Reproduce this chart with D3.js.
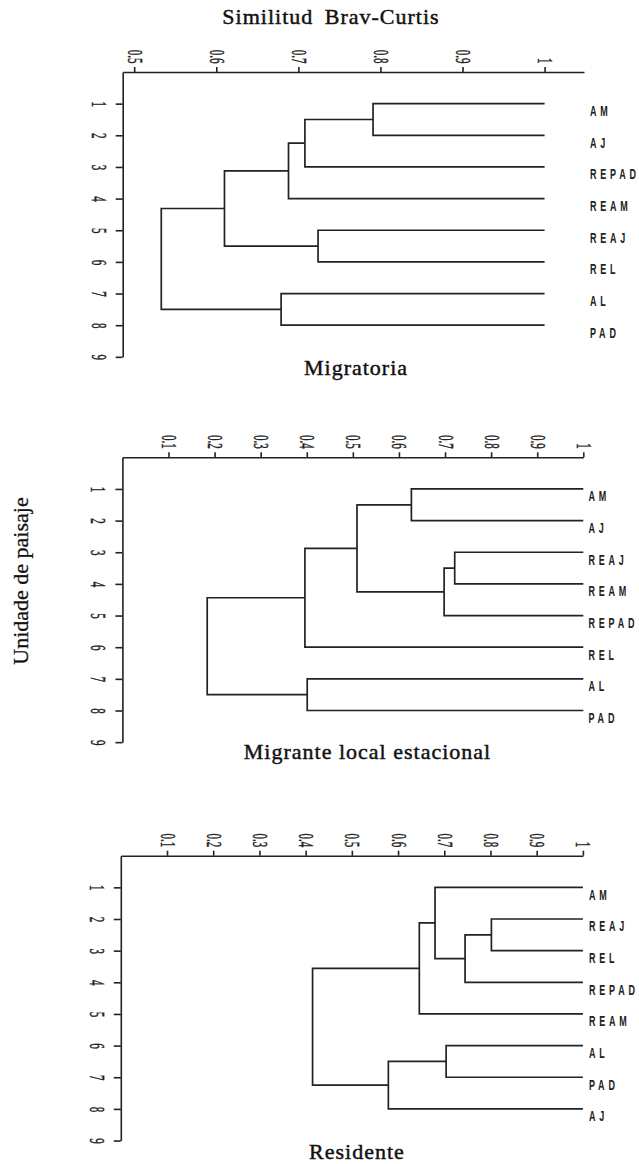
<!doctype html>
<html lang="es">
<head>
<meta charset="utf-8">
<script src="https://d3js.org/d3.v7.min.js"></script>
<style>
    body { margin: 0; background: #fff; }
    .title { font-family: "Liberation Serif", "Times New Roman", serif; font-size: 22px; fill: #111; stroke: #111; stroke-width: 0.45; letter-spacing: 1px; }
    .side { font-family: "Liberation Serif", "Times New Roman", serif; font-size: 22px; fill: #111; stroke: #111; stroke-width: 0.3; }
    .tick text { font-family: "Liberation Serif", serif; font-size: 22px; fill: #222; stroke: #222; stroke-width: 0.5; }
    .axis path, .axis line { stroke: #222; stroke-width: 1.6; }
    .link { fill: none; stroke: #222; stroke-width: 1.7; }
    .leaf { font-family: "Liberation Sans", Arial, sans-serif; font-weight: bold; font-size: 15px; fill: #222; letter-spacing: 6.3px; }
</style>
</head>
<body>
<svg id="chart" width="639" height="1164"></svg>
<script>
    // merges use hclust convention: negative = leaf index (1-based), positive = earlier merge

    // Migratoria
    var migLeaves = ["AM", "AJ", "REPAD", "REAM", "REAJ", "REL", "AL", "PAD"];
    var migMerges = [[-1, -2], [1, -3], [2, -4], [-5, -6], [3, 4], [-7, -8], [5, 6]];
    var migHeights = [0.791, 0.708, 0.688, 0.724, 0.610, 0.679, 0.533];

    // Migrante local estacional
    var mleLeaves = ["AM", "AJ", "REAJ", "REAM", "REPAD", "REL", "AL", "PAD"];
    var mleMerges = [[-1, -2], [-3, -4], [2, -5], [1, 3], [4, -6], [-7, -8], [5, 6]];
    var mleHeights = [0.627, 0.721, 0.698, 0.509, 0.396, 0.401, 0.184];

    // Residente
    var resLeaves = ["AM", "REAJ", "REL", "REPAD", "REAM", "AL", "PAD", "AJ"];
    var resMerges = [[-2, -3], [1, -4], [-1, 2], [3, -5], [-6, -7], [5, -8], [4, 6]];
    var resHeights = [0.802, 0.745, 0.680, 0.646, 0.704, 0.579, 0.415];

    // axis ticks
    var ticksTop = [0.5, 0.6, 0.7, 0.8, 0.9, 1];
    var tickLabelsTop = ["0.5", "0.6", "0.7", "0.8", "0.9", "1"];
    var ticksFull = [0.1, 0.2, 0.3, 0.4, 0.5, 0.6, 0.7, 0.8, 0.9, 1];
    var tickLabelsFull = ["0.1", "0.2", "0.3", "0.4", "0.5", "0.6", "0.7", "0.8", "0.9", "1"];
    var rowNumbers = [1, 2, 3, 4, 5, 6, 7, 8, 9];

    var svg = d3.select("#chart");
    var rowStep = 31.65;

    function drawPanel(p) {
        var g = svg.append("g");

        var x = d3.scaleLinear().domain(p.xDomain).range(p.xRange);
        var y = d3.scaleLinear().domain([0, 9]).range([p.axisY, p.axisY + 9 * rowStep]);

        // top axis (similarity)
        var xAxis = d3.axisTop(x)
            .tickValues(p.ticks)
            .tickFormat(function (d, i) { return p.tickLabels[i]; })
            .tickSize(5)
            .tickSizeOuter(0);
        var gx = g.append("g").attr("class", "axis")
            .attr("transform", "translate(0," + p.axisY + ")")
            .call(xAxis);
        gx.selectAll(".tick text")
            .attr("x", null).attr("y", null).attr("dy", null)
            .attr("text-anchor", "end")
            .attr("dominant-baseline", "central")
            .attr("transform", "translate(0,-8.5) rotate(90) scale(0.5,1)");

        // left axis (row numbers)
        var yAxis = d3.axisLeft(y)
            .tickValues(rowNumbers)
            .tickFormat(d3.format("d"))
            .tickSize(7)
            .tickSizeOuter(0);
        var gy = g.append("g").attr("class", "axis")
            .attr("transform", "translate(" + p.xRange[0] + ",0)")
            .call(yAxis);
        gy.selectAll(".tick text")
            .attr("x", null).attr("y", null).attr("dy", null)
            .attr("text-anchor", "middle")
            .attr("dominant-baseline", "central")
            .attr("transform", "translate(-24,0) rotate(90) scale(0.5,1)");

        // node positions
        var leafPos = p.leaves.map(function (d, i) { return { x: x(1), y: y(i + 1) }; });
        var nodePos = [];
        function pos(k) { return k < 0 ? leafPos[-k - 1] : nodePos[k - 1]; }

        var links = [];
        p.merges.forEach(function (m, i) {
            var a = pos(m[0]), b = pos(m[1]);
            var nx = x(p.heights[i]);
            nodePos.push({ x: nx, y: (a.y + b.y) / 2 });
            links.push("M" + a.x + "," + a.y + "H" + nx + "V" + b.y + "H" + b.x);
        });

        g.selectAll(".link")
            .data(links)
            .join("path")
            .attr("class", "link")
            .attr("d", function (d) { return d; });

        // leaf names
        g.selectAll(".leaf")
            .data(p.leaves)
            .join("text")
            .attr("class", "leaf")
            .attr("transform", function (d, i) { return "translate(" + p.labelX + "," + (y(i + 1) + 12.3) + ") scale(0.6,1)"; })
            .text(function (d) { return d; });

        g.append("text")
            .attr("class", "title")
            .attr("x", p.titleX)
            .attr("y", p.titleY)
            .attr("text-anchor", "middle")
            .text(p.title);
    }

    drawPanel({
        leaves: migLeaves, merges: migMerges, heights: migHeights,
        ticks: ticksTop, tickLabels: tickLabelsTop,
        xDomain: [0.486, 1.048], xRange: [122.7, 584],
        axisY: 72, labelX: 590, title: "Migratoria", titleX: 356, titleY: 375
    });

    drawPanel({
        leaves: mleLeaves, merges: mleMerges, heights: mleHeights,
        ticks: ticksFull, tickLabels: tickLabelsFull,
        xDomain: [0, 1], xRange: [122.4, 583.3],
        axisY: 457.3, labelX: 588.5, title: "Migrante local estacional", titleX: 367.5, titleY: 759
    });

    drawPanel({
        leaves: resLeaves, merges: resMerges, heights: resHeights,
        ticks: ticksFull, tickLabels: tickLabelsFull,
        xDomain: [0, 1], xRange: [120.8, 582.9],
        axisY: 855.7, labelX: 589, title: "Residente", titleX: 357, titleY: 1159
    });

    // overall titles
    svg.append("text")
        .attr("class", "title")
        .attr("x", 331)
        .attr("y", 24)
        .attr("text-anchor", "middle")
        .style("word-spacing", "5px")
        .text("Similitud Brav-Curtis");

    svg.append("text")
        .attr("class", "side")
        .attr("transform", "translate(28,581) rotate(-90)")
        .attr("text-anchor", "middle")
        .text("Unidade de paisaje");
</script>
</body>
</html>
